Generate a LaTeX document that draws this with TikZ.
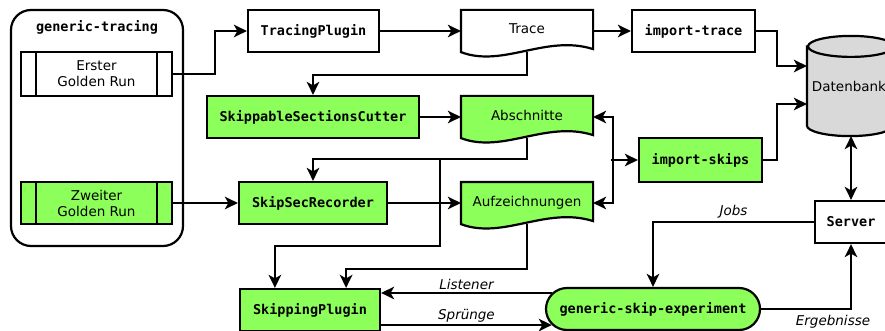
\documentclass[tikz,border=0pt]{standalone}
\usepackage{fontspec}
\setmainfont{DejaVu Sans}
\setmonofont{DejaVu Sans Mono}
\usetikzlibrary{arrows.meta,shapes.misc,backgrounds,calc}

\definecolor{skipgreen}{RGB}{140,255,90}
\definecolor{dbgray}{RGB}{217,217,217}

% outline of a "document" symbol with a wavy lower edge, built on a node's anchors
\newcommand\docoutline[2]{%
  \draw[outline, fill=#2] (#1.north west) -- (#1.north east) -- ([yshift=3pt]#1.south east)
    .. controls ([xshift=-47pt,yshift=18pt]#1.south east) and ([xshift=42pt,yshift=-16pt]#1.south west)
    .. (#1.south west) -- cycle;}

\begin{document}
\begin{tikzpicture}[x=1pt,y=-1pt,line width=2.2pt,
  >={Stealth[length=13pt,width=12.5pt,inset=3.5pt]},
  outline/.style={line width=2.2pt},
  txt/.style={font=\fontsize{13.5}{16}\selectfont},
  code/.style={font=\fontsize{13.5}{16}\selectfont\ttfamily\bfseries},
  lbl/.style={font=\fontsize{13.5}{16}\selectfont\itshape, inner sep=0pt},
  box/.style={draw, outline, code, inner sep=0pt, minimum height=42pt},
  active/.style={fill=skipgreen},
  doc/.style={txt, inner sep=0pt, minimum width=130pt, minimum height=40pt},
  subproc/.style={draw, outline, txt, align=center, inner sep=0pt, minimum width=151pt,
    path picture={\draw[outline]
      ([xshift=15pt]path picture bounding box.north west) -- ([xshift=15pt]path picture bounding box.south west)
      ([xshift=-15pt]path picture bounding box.north east) -- ([xshift=-15pt]path picture bounding box.south east);}},
  flow/.style={->, outline}]
\useasboundingbox (0,0) rectangle (885,331);

% generic-tracing group
\node[draw, outline, rounded corners=20pt, minimum width=172pt, minimum height=236pt, inner sep=0pt] (gt) at (97,128) {};
\node[code] (gtlabel) at (97,27) {generic-tracing};
\node[subproc, minimum height=44pt] (erster) at (96.5,74) {Erster\\Golden Run};
\node[subproc, active, minimum height=42pt] (zweiter) at (96.5,203) {Zweiter\\Golden Run};

% processing steps
\node[box, minimum width=131pt] (tracing) at (313.5,31) {TracingPlugin};
\node[box, minimum width=123pt] (imptrace) at (693.5,31) {import-trace};
\node[box, active, minimum width=212pt] (cutter) at (313,117) {SkippableSectionsCutter};
\node[box, active, minimum width=148pt] (recorder) at (313,203) {SkipSecRecorder};
\node[box, active, minimum width=123pt, minimum height=44pt] (impskips) at (700.5,160) {import-skips};
\node[box, minimum width=72pt] (server) at (851,222) {Server};
\node[box, active, minimum width=140pt] (skipping) at (310,310) {SkippingPlugin};
\node[draw, outline, rounded rectangle, active, code, inner sep=0pt, minimum width=214pt, minimum height=42pt]
  (experiment) at (653,309) {generic-skip-experiment};

% data
\node[doc] (trace) at (527,31) {\raisebox{4pt}{Trace}};
\node[doc] (abschnitte) at (527,117) {\raisebox{4pt}{Abschnitte}};
\node[doc] (aufz) at (527,203) {\raisebox{4pt}{Aufzeichnungen}};
\node[txt, inner sep=0pt, minimum width=86pt, minimum height=98pt] (db) at (851,86) {\hspace*{-4pt}\raisebox{-6pt}{Datenbank}};

\begin{scope}[on background layer]
  \docoutline{trace}{white}
  \docoutline{abschnitte}{skipgreen}
  \docoutline{aufz}{skipgreen}
  % database cylinder
  \draw[outline, fill=dbgray] ([yshift=-10.5pt]db.north west) -- ([yshift=10.5pt]db.south west)
    arc[start angle=180, end angle=360, x radius=43pt, y radius=10.5pt]
    -- ([yshift=-10.5pt]db.north east) -- cycle;
  \draw[outline, fill=dbgray] ([yshift=-10.5pt]db.north) ellipse[x radius=43pt, y radius=10.5pt];
\end{scope}

% connectors
\draw[flow] (erster.east) -- ++(42,0) |- (tracing.west);
\draw[flow] (tracing.east) -- (tracing.east -| trace.west);
\draw[flow] (trace.east) -- (trace.east -| imptrace.west);
\draw[flow] (imptrace.east) -- ++(21,0) |- ([yshift=20pt]db.west);
\draw[flow] (trace.south) -- ++(0,23) -| (cutter.north);
\draw[flow] (cutter.east) -- (cutter.east -| abschnitte.west);
\draw[flow] (abschnitte.south) -- ++(0,21) coordinate (abturn) -| (recorder.north);
\draw[flow] ([xshift=-87pt]abturn) -- ++(0,87) -| ([xshift=36pt]skipping.north west);
\draw[flow] (zweiter.east) -- (zweiter.east -| recorder.west);
\draw[flow] (recorder.east) -- (recorder.east -| aufz.west);
\draw[flow] (aufz.south) -- ++(0,45) -| ([xshift=-35pt]skipping.north east);
\draw[flow, <->] (abschnitte.east) -- ++(20,0) |- (aufz.east);
\draw[flow] ([xshift=-27pt]impskips.west) -- (impskips.west);
\draw[flow] (impskips.east) -- ++(14,0) |- ([yshift=-18pt]db.west);
\draw[flow, <->] (db.south) -- (server.north);
\draw[flow] (server.west) -| (experiment.north) node[lbl, pos=0.25, above=3pt] {Jobs};
\draw[flow] (experiment.east) -| (server.south) node[lbl, pos=0.5, below=5pt, xshift=-18pt] {Ergebnisse};
\draw[flow] (experiment.171.53) -- (experiment.171.53 -| skipping.east) node[lbl, midway, above=2pt] {Listener};
\draw[flow] (experiment.189.81 -| skipping.east) -- (experiment.189.81) node[lbl, midway, above=2pt] {Sprünge};
\end{tikzpicture}
\end{document}
